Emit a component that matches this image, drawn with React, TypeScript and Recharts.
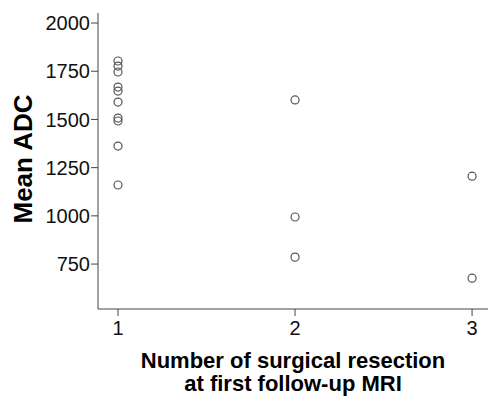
import { ScatterChart, Scatter, XAxis, YAxis, Label } from "recharts";

// number of surgical resections at first follow-up MRI
const resections = [1, 1, 1, 1, 1, 1, 1, 1, 1, 1, 2, 2, 2, 3, 3];
// mean ADC
const meanAdc = [1803, 1777, 1746, 1668, 1647, 1590, 1507, 1492, 1362, 1160, 1601, 994, 786, 1206, 677];

const xTicks = [1, 2, 3];
const yTicks = [750, 1000, 1250, 1500, 1750, 2000];

const points = resections.map((x, i) => ({ x, y: meanAdc[i] }));

const FONT = "'Liberation Sans', Arial, sans-serif";
const AXIS = "#444";

const Ring = (props: any) => (
  <circle cx={props.cx} cy={props.cy} r={4} fill="none" stroke="#555" strokeWidth={1.2} />
);

export default function App() {
  return (
    <div style={{ position: "absolute", left: 0, top: 0, background: "#fff" }}>
      <ScatterChart width={488} height={396} margin={{ top: 13, right: 0, bottom: 0, left: 0 }}>
        <XAxis
          dataKey="x"
          type="number"
          domain={[0.887, 3.09]}
          ticks={xTicks}
          height={87}
          stroke={AXIS}
          tickSize={7}
          tickMargin={5}
          tick={{ fontSize: 20, fill: "#111", fontFamily: FONT }}
        >
          <Label
            content={({ viewBox }: any) => (
              <text
                x={viewBox.x + viewBox.width / 2}
                textAnchor="middle"
                fontFamily={FONT}
                fontWeight="bold"
                fontSize={22}
                fill="#000"
              >
                <tspan x={viewBox.x + viewBox.width / 2} y={viewBox.y + 59}>Number of surgical resection</tspan>
                <tspan x={viewBox.x + viewBox.width / 2} y={viewBox.y + 82}>at first follow-up MRI</tspan>
              </text>
            )}
          />
        </XAxis>
        <XAxis
          xAxisId="top"
          orientation="top"
          type="number"
          domain={[0.887, 3.09]}
          height={0}
          tick={false}
          stroke={AXIS}
        />
        <YAxis
          dataKey="y"
          type="number"
          domain={[517, 2052]}
          ticks={yTicks}
          width={98}
          stroke={AXIS}
          tickSize={7}
          tickMargin={1}
          tick={{ fontSize: 20, fill: "#111", fontFamily: FONT }}
        >
          <Label
            content={() => (
              <text
                x={23}
                y={159}
                transform="rotate(-90 23 159)"
                textAnchor="middle"
                dominantBaseline="central"
                fontFamily={FONT}
                fontWeight="bold"
                fontSize={26}
                fill="#000"
              >
                Mean ADC
              </text>
            )}
          />
        </YAxis>
        <Scatter data={points} shape={<Ring />} isAnimationActive={false} />
      </ScatterChart>
    </div>
  );
}
